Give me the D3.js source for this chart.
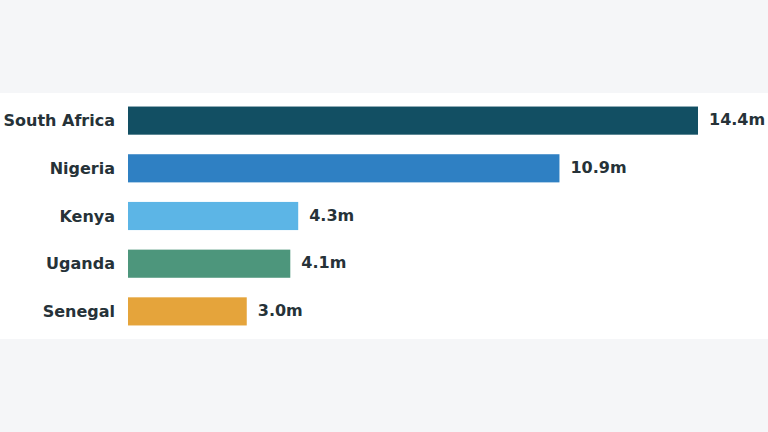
<html>
  <head>
    <script src="https://d3js.org/d3.v7.min.js"></script>
    <style>
      body { margin: 0; background: #f5f6f8; }
    </style>
  </head>
  <body>
    <script>
      const w = 768;
      const h = 432;

      const countries = ["South Africa", "Nigeria", "Kenya", "Uganda", "Senegal"];
      const values = [14.4, 10.9, 4.3, 4.1, 3.0];
      const colors = ["#124f63", "#2f80c3", "#5cb5e6", "#4d967c", "#e5a43b"];

      const svg = d3.select("body").append("svg")
        .attr("width", w)
        .attr("height", h);

      // white panel behind the chart
      svg.append("rect")
        .attr("x", 0).attr("y", 93)
        .attr("width", w).attr("height", 246)
        .attr("fill", "#ffffff");

      const xScale = d3.scaleLinear()
        .domain([0, 14.4])
        .range([128, 698]);

      const yScale = d3.scaleBand()
        .domain(countries)
        .range([97, 335])
        .paddingInner(0.41)
        .paddingOuter(0.2);

      const rows = svg.selectAll("g.row")
        .data(countries)
        .enter()
        .append("g")
        .attr("class", "row");

      rows.append("rect")
        .attr("x", xScale(0))
        .attr("y", (d) => yScale(d))
        .attr("width", (d, i) => xScale(values[i]) - xScale(0))
        .attr("height", yScale.bandwidth())
        .attr("fill", (d, i) => colors[i]);

      rows.append("text")
        .attr("x", 115)
        .attr("y", (d) => yScale(d) + yScale.bandwidth() / 2)
        .attr("dy", "0.35em")
        .attr("text-anchor", "end")
        .attr("font-family", "DejaVu Sans")
        .attr("font-weight", "bold")
        .attr("font-size", 16)
        .attr("fill", "#263238")
        .text((d) => d);

      rows.append("text")
        .attr("x", (d, i) => xScale(values[i]) + 11)
        .attr("y", (d) => yScale(d) + yScale.bandwidth() / 2 - 1)
        .attr("dy", "0.35em")
        .attr("font-family", "DejaVu Sans")
        .attr("font-weight", "bold")
        .attr("font-size", 16)
        .attr("fill", "#263238")
        .text((d, i) => values[i].toFixed(1) + "m");
    </script>
  </body>
</html>
